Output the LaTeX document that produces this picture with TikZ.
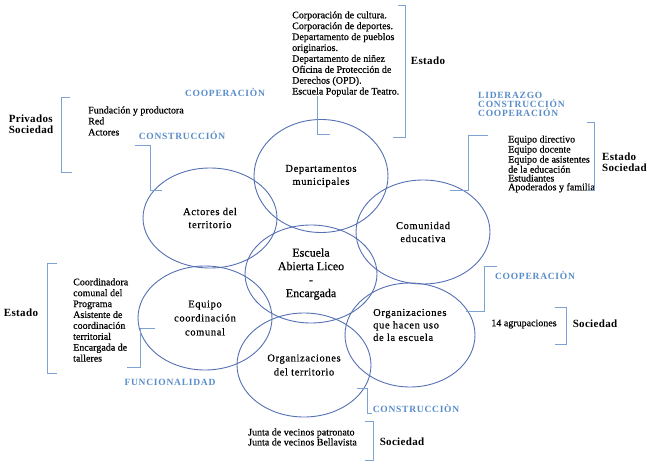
\documentclass[tikz,border=0pt]{standalone}
\usepackage{fontspec}
\setmainfont{Liberation Serif}[FakeBold=0.5]
\newfontfamily\ringfont[LetterSpace=6,FakeBold=0.6]{Liberation Serif}
\newfontfamily\tagfont[LetterSpace=8]{Liberation Serif}
\newfontfamily\sidefont[LetterSpace=3]{Liberation Serif}
\usetikzlibrary{shapes.geometric}
\definecolor{ringblue}{RGB}{84,112,178}
\definecolor{braceblue}{RGB}{125,163,212}
\definecolor{tagblue}{RGB}{88,140,200}

\begin{document}
\begin{tikzpicture}[x=1pt,y=-1pt,
	ring/.style={ellipse,draw=ringblue,line width=0.9pt,inner sep=0pt,align=center,
		font=\ringfont\fontsize{10.5}{13}\selectfont},
	tag/.style={text=tagblue,inner sep=0pt,font=\tagfont\bfseries\fontsize{9.5}{9}\selectfont},
	brace/.style={draw=braceblue,line width=0.8pt},
	list/.style={anchor=west,align=left,inner sep=0pt},
	side/.style={inner sep=0pt,align=left,font=\sidefont\bfseries\fontsize{11}{11}\selectfont}]
	\useasboundingbox (0,0) rectangle (650,468);
	% ellipses
	\node[ring,minimum width=134pt,minimum height=113pt] (dep) at (321,176) {Departamentos\\municipales};
	\node[ring,minimum width=134pt,minimum height=100pt] (act) at (210,218) {Actores del\\territorio};
	\node[ring,minimum width=134pt,minimum height=104pt] (com) at (423,232) {Comunidad\\educativa};
	\node[ring,minimum width=132pt,minimum height=98pt,font=\fontsize{12}{13.5}\selectfont] (esc) at (311,274) {Escuela\\Abierta Liceo\\-\\Encargada};
	\node[ring,minimum width=134pt,minimum height=104pt,font=\ringfont\fontsize{10.5}{14}\selectfont] (equ) at (205,318) {Equipo\\coordinación\\comunal};
	\node[ring,minimum width=130pt,minimum height=104pt] (org) at (410,335) {};
	\node[list,font=\ringfont\fontsize{10.5}{12.5}\selectfont] (orgtxt) at (373,325) {Organizaciones\\que hacen uso\\de la escuela};
	\node[ring,minimum width=134pt,minimum height=104pt,font=\ringfont\fontsize{10.5}{14}\selectfont] (ter) at (304,365) {Organizaciones\\del territorio};
	% lists
	\node[list,font=\fontsize{10}{10.9}\selectfont] (deplist) at (292,54) {Corporación de cultura.\\Corporación de deportes.\\Departamento de pueblos\\originarios.\\Departamento de niñez\\Oficina de Protección de\\Derechos (OPD).\\Escuela Popular de Teatro.};
	\node[list,font=\fontsize{10}{11}\selectfont] (actlist) at (88,121) {Fundación y productora\\Red\\Actores};
	\node[list,font=\fontsize{10}{8.8}\selectfont] (comlist) at (508,164) {Equipo directivo\\Equipo docente\\Equipo de asistentes\\de la educación\\Estudiantes\\Apoderados y familia};
	\node[list,font=\fontsize{10}{10.9}\selectfont] (equlist) at (73,320) {Coordinadora\\comunal del\\Programa\\Asistente de\\coordinación\\territorial\\Encargada de\\talleres};
	\node[inner sep=0pt,font=\fontsize{10}{10}\selectfont] (orglist) at (524,324) {14 agrupaciones};
	\node[list,font=\fontsize{10}{10}\selectfont] (terlist) at (248,437) {Junta de vecinos patronato\\Junta de vecinos Bellavista};
	% sectors
	\node[side] (depside) at (428,61) {Estado};
	\node[side] (actside) at (31,124) {Privados\\Sociedad};
	\node[side,anchor=west] (comside) at (602,162) {Estado\\Sociedad};
	\node[side] (equside) at (21,313) {Estado};
	\node[side] (orgside) at (595,324) {Sociedad};
	\node[side] (terside) at (402,442) {Sociedad};
	% relations
	\node[tag] (coop1) at (225,92) {COOPERACIÒN};
	\node[tag] (cons1) at (182,135) {CONSTRUCCIÓN};
	\node[tag,align=left,anchor=west] (lider) at (478,104) {LIDERAZGO\\CONSTRUCCIÓN\\COOPERACIÓN};
	\node[tag] (coop2) at (535,275) {COOPERACIÒN};
	\node[tag] (func) at (170,382) {FUNCIONALIDAD};
	\node[tag] (cons2) at (416,408) {CONSTRUCCIÒN};
	% brackets
	\draw[brace] (317,96) -- (317,134) -- (330,134);
	\draw[brace] (398,5) -- (405,5) -- (405,137) -- (393,137);
	\draw[brace] (70,97) -- (61,97) -- (61,172) -- (72,172);
	\draw[brace] (135,145) -- (150,145) -- (150,190) -- (162,190);
	\draw[brace] (488,135) -- (468,135) -- (468,190) -- (450,190);
	\draw[brace] (587,122) -- (594,122) -- (594,190) -- (588,190);
	\draw[brace] (57,263) -- (47,263) -- (47,373) -- (57,373);
	\draw[brace] (155,328) -- (140,328) -- (140,367) -- (127,367);
	\draw[brace] (497,266) -- (484,266) -- (484,311) -- (466,311);
	\draw[brace] (555,307) -- (566,307) -- (566,344) -- (555,344);
	\draw[brace] (357,388) -- (367,388) -- (367,413) -- (372,413);
	\draw[brace] (365,421) -- (373,421) -- (373,460) -- (365,460);
\end{tikzpicture}
\end{document}
